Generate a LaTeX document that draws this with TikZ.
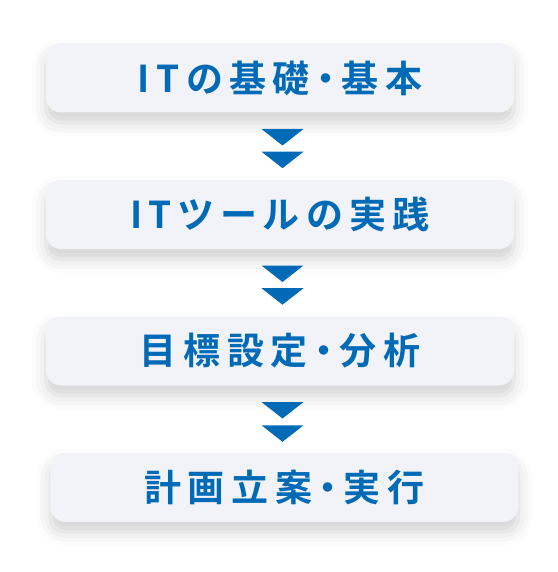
\documentclass[tikz,border=0pt]{standalone}
\usepackage{fontspec}
\usetikzlibrary{shadows.blur}
\newfontfamily\jpfont[LetterSpace=18,RawFeature=+palt]{Noto Sans CJK JP Bold}
\definecolor{stepblue}{HTML}{006AB6}
\definecolor{stepfill}{HTML}{F2F3F9}
\newcommand\downtri[1]{\fill[stepblue] #1 ++(-21,0) -- ++(42,0) -- ++(-21,16.5) -- cycle;}

\begin{document}
\begin{tikzpicture}[x=1pt,y=-1pt,
    stepbox/.style={fill=stepfill, rounded corners=15pt, minimum width=468pt,
      minimum height=69pt, text=stepblue, font=\jpfont\fontsize{37}{42}\selectfont,
      blur shadow={shadow xshift=0pt, shadow yshift=-10pt, shadow blur radius=14pt, shadow opacity=18}}]
  \useasboundingbox (0,0) rectangle (557,572);
  \node[stepbox] (basics) at (280,78) {ITの基礎・基本};
  \node[stepbox] (tools) at (280,214.6) {ITツールの実践};
  \node[stepbox] (goals) at (280,351) {目標設定・分析};
  \node[stepbox] (plan) at (284.3,487.3) {計画立案・実行};
  % chevrons between the boxes
  \downtri{(282.5,129)} \downtri{(282.5,151.7)}
  \downtri{(282.5,265.5)} \downtri{(282.5,288.2)}
  \downtri{(282.5,402)} \downtri{(282.5,425.3)}
\end{tikzpicture}
\end{document}
